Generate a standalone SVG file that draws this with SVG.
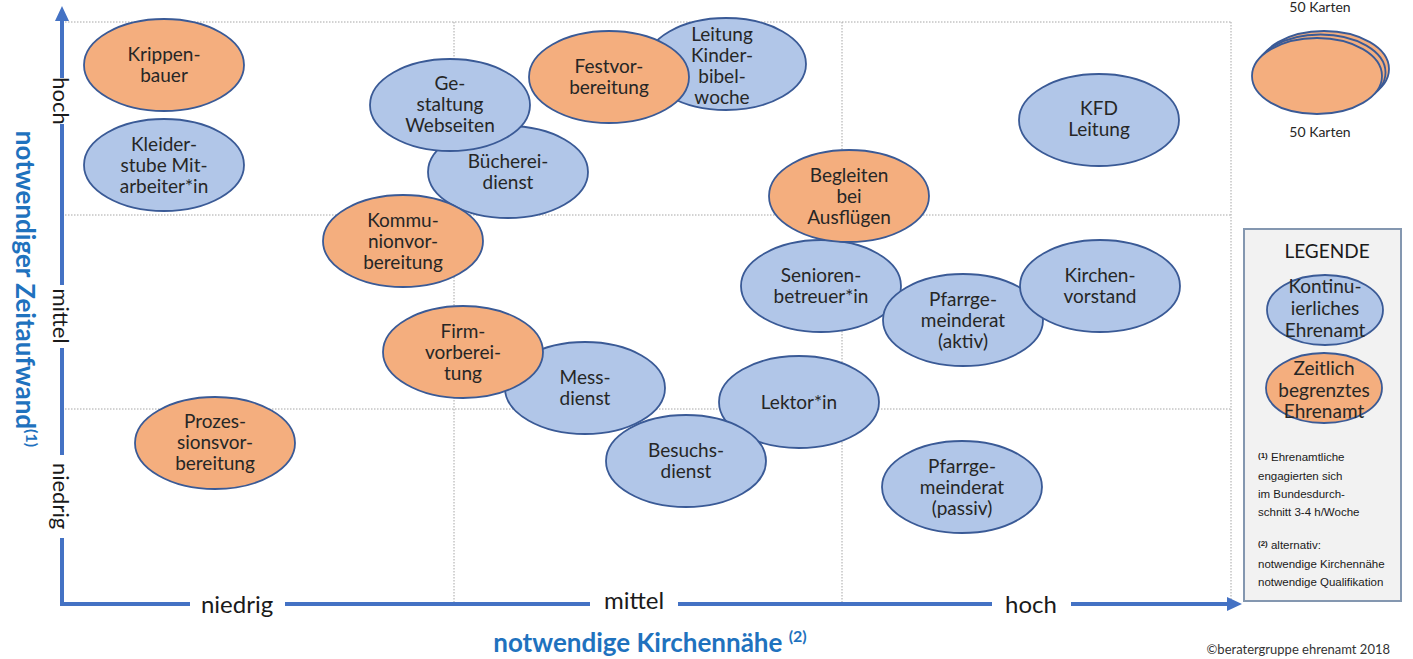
<svg xmlns="http://www.w3.org/2000/svg" width="1413" height="659" viewBox="0 0 1413 659">
<style>
.b{fill:#B1C6E8;stroke:#3A5A96;stroke-width:1.8}
.o{fill:#F4AE7E;stroke:#3A5A96;stroke-width:1.8}
.t{font-family:Lato,"Noto Sans",sans-serif;font-size:19px;fill:#262626;text-anchor:middle}
.ax{font-family:Lato,"Noto Sans",sans-serif;fill:#1a1a1a;text-anchor:middle}
.grid{stroke:#A6A6A6;stroke-width:1;stroke-dasharray:1.5 1.5;fill:none}
.axis{stroke:#4472C4;stroke-width:4;fill:none}
.ttl{font-family:Lato,"Noto Sans",sans-serif;font-weight:bold;font-size:26px;fill:#1F72BE;text-anchor:middle}
.lg{font-family:"Liberation Sans",Arial,sans-serif;font-size:11.5px;fill:#1a1a1a}
.sm{font-family:Lato,"Noto Sans",sans-serif;font-size:14px;fill:#262626;text-anchor:middle}
</style>
<rect width="1413" height="659" fill="#ffffff"/>
<g id="grid">
<line class="grid" x1="62" y1="22" x2="1231" y2="22"/>
<line class="grid" x1="62" y1="215" x2="1231" y2="215"/>
<line class="grid" x1="62" y1="409" x2="1231" y2="409"/>
<line class="grid" x1="454" y1="22" x2="454" y2="604"/>
<line class="grid" x1="842" y1="22" x2="842" y2="604"/>
<line class="grid" x1="1231" y1="22" x2="1231" y2="604"/>
</g>
<g id="connectors">
<path class="axis" d="M62 606 V538 M62 455 V348 M62 285 V124 M62 78 V20"/>
<path class="axis" d="M60 604 H190 M285 604 H590 M678 604 H992 M1071 604 H1230"/>
<polygon points="62,6 55,21 69,21" fill="#4472C4"/>
<polygon points="1242,604 1227,597 1227,611" fill="#4472C4"/>
</g>
<g id="axis-labels">
<text class="ax" font-size="22" transform="translate(62 101) rotate(90)" y="9">hoch</text>
<text class="ax" font-size="22" transform="translate(62 316) rotate(90)" y="9">mittel</text>
<text class="ax" font-size="22" transform="translate(62 496) rotate(90)" y="9">niedrig</text>
<text class="ax" font-size="24" x="237" y="613">niedrig</text>
<text class="ax" font-size="24" x="634" y="609">mittel</text>
<text class="ax" font-size="24" x="1031" y="613">hoch</text>
<text class="ttl" x="650" y="652">notwendige Kirchennähe <tspan font-size="16" dy="-10">(2)</tspan></text>
<text class="ttl" transform="translate(25 289) rotate(90)" y="9">notwendiger Zeitaufwand<tspan font-size="16" dy="-10">(1)</tspan></text>
<text x="1390" y="654" font-family="Lato,'Noto Sans',sans-serif" font-size="13" fill="#333" text-anchor="end">©beratergruppe ehrenamt 2018</text>
</g>
<g id="n-krippenbauer"><ellipse class="o" cx="164" cy="65" rx="80" ry="46"/><text class="t" x="164" y="61">Krippen-</text><text class="t" x="164" y="82">bauer</text></g>
<g id="n-kleiderstube"><ellipse class="b" cx="164" cy="165" rx="80" ry="46"/><text class="t" x="164" y="151">Kleider-</text><text class="t" x="164" y="172">stube Mit-</text><text class="t" x="164" y="193">arbeiter*in</text></g>
<g id="n-buecherei"><ellipse class="b" cx="508" cy="172" rx="80" ry="46"/><text class="t" x="508" y="168">Bücherei-</text><text class="t" x="508" y="189">dienst</text></g>
<g id="n-gestaltung"><ellipse class="b" cx="450" cy="105" rx="80" ry="46"/><text class="t" x="450" y="90">Ge-</text><text class="t" x="450" y="111">staltung</text><text class="t" x="450" y="132">Webseiten</text></g>
<g id="n-kommunion"><ellipse class="o" cx="403" cy="241" rx="80" ry="46"/><text class="t" x="403" y="227">Kommu-</text><text class="t" x="403" y="248">nionvor-</text><text class="t" x="403" y="269">bereitung</text></g>
<g id="n-kinderbibelwoche"><ellipse class="b" cx="726" cy="64" rx="80" ry="46"/><text class="t" x="722" y="41">Leitung</text><text class="t" x="722" y="62">Kinder-</text><text class="t" x="722" y="83">bibel-</text><text class="t" x="722" y="104">woche</text></g>
<g id="n-festvorbereitung"><ellipse class="o" cx="609" cy="77" rx="80" ry="46"/><text class="t" x="609" y="73">Festvor-</text><text class="t" x="609" y="94">bereitung</text></g>
<g id="n-kfd"><ellipse class="b" cx="1099" cy="120" rx="80" ry="46"/><text class="t" x="1099" y="115">KFD</text><text class="t" x="1099" y="136">Leitung</text></g>
<g id="n-senioren"><ellipse class="b" cx="821" cy="286" rx="80" ry="46"/><text class="t" x="821" y="282">Senioren-</text><text class="t" x="821" y="303">betreuer*in</text></g>
<g id="n-begleiten"><ellipse class="o" cx="849" cy="196" rx="80" ry="46"/><text class="t" x="849" y="182">Begleiten</text><text class="t" x="849" y="203">bei</text><text class="t" x="849" y="224">Ausflügen</text></g>
<g id="n-pgr-aktiv"><ellipse class="b" cx="963" cy="320" rx="80" ry="46"/><text class="t" x="963" y="306">Pfarrge-</text><text class="t" x="963" y="327">meinderat</text><text class="t" x="963" y="348">(aktiv)</text></g>
<g id="n-kirchenvorstand"><ellipse class="b" cx="1100" cy="286" rx="80" ry="46"/><text class="t" x="1100" y="282">Kirchen-</text><text class="t" x="1100" y="303">vorstand</text></g>
<g id="n-messdienst"><ellipse class="b" cx="585" cy="388" rx="80" ry="46"/><text class="t" x="585" y="384">Mess-</text><text class="t" x="585" y="405">dienst</text></g>
<g id="n-firm"><ellipse class="o" cx="463" cy="352" rx="80" ry="46"/><text class="t" x="463" y="338">Firm-</text><text class="t" x="463" y="359">vorberei-</text><text class="t" x="463" y="380">tung</text></g>
<g id="n-lektor"><ellipse class="b" cx="799" cy="402" rx="80" ry="46"/><text class="t" x="799" y="409">Lektor*in</text></g>
<g id="n-besuchsdienst"><ellipse class="b" cx="686" cy="461" rx="80" ry="46"/><text class="t" x="686" y="457">Besuchs-</text><text class="t" x="686" y="478">dienst</text></g>
<g id="n-prozession"><ellipse class="o" cx="215" cy="443" rx="80" ry="46"/><text class="t" x="215" y="428">Prozes-</text><text class="t" x="215" y="449">sionsvor-</text><text class="t" x="215" y="470">bereitung</text></g>
<g id="n-pgr-passiv"><ellipse class="b" cx="962" cy="487" rx="80" ry="46"/><text class="t" x="962" y="473">Pfarrge-</text><text class="t" x="962" y="494">meinderat</text><text class="t" x="962" y="515">(passiv)</text></g>
<g id="cards">
<text class="sm" x="1320" y="12">50 Karten</text>
<ellipse class="o" cx="1324" cy="69" rx="65" ry="38"/>
<ellipse class="o" cx="1320.5" cy="72.5" rx="65" ry="38"/>
<ellipse class="o" cx="1317" cy="76" rx="65" ry="38"/>
<text class="sm" x="1320" y="137">50 Karten</text>
</g>
<g id="legend">
<rect x="1244" y="229" width="157" height="372" fill="#F2F2F2" stroke="#8497B0" stroke-width="2"/>
<text x="1327" y="258" font-family="Lato,'Noto Sans',sans-serif" font-size="19" fill="#1a1a1a" text-anchor="middle">LEGENDE</text>
<ellipse class="b" cx="1325" cy="310" rx="58" ry="35"/>
<text class="t" font-size="15" x="1325" y="293">Kontinu-</text><text class="t" font-size="15" x="1325" y="315">ierliches</text><text class="t" font-size="15" x="1325" y="337">Ehrenamt</text>
<ellipse class="o" cx="1324" cy="388" rx="58" ry="35"/>
<text class="t" font-size="15" x="1324" y="375">Zeitlich</text><text class="t" font-size="15" x="1324" y="397">begrenztes</text><text class="t" font-size="15" x="1324" y="418">Ehrenamt</text>
<text class="lg" x="1258" y="461"><tspan font-size="8" font-weight="bold" dy="-3">(1)</tspan><tspan dy="3"> Ehrenamtliche</tspan></text>
<text class="lg" x="1258" y="480">engagierten sich</text>
<text class="lg" x="1258" y="498">im Bundesdurch-</text>
<text class="lg" x="1258" y="516">schnitt 3-4 h/Woche</text>
<text class="lg" x="1258" y="549"><tspan font-size="8" font-weight="bold" dy="-3">(2)</tspan><tspan dy="3"> alternativ:</tspan></text>
<text class="lg" x="1258" y="568">notwendige Kirchennähe</text>
<text class="lg" x="1258" y="586">notwendige Qualifikation</text>
</g>
</svg>
